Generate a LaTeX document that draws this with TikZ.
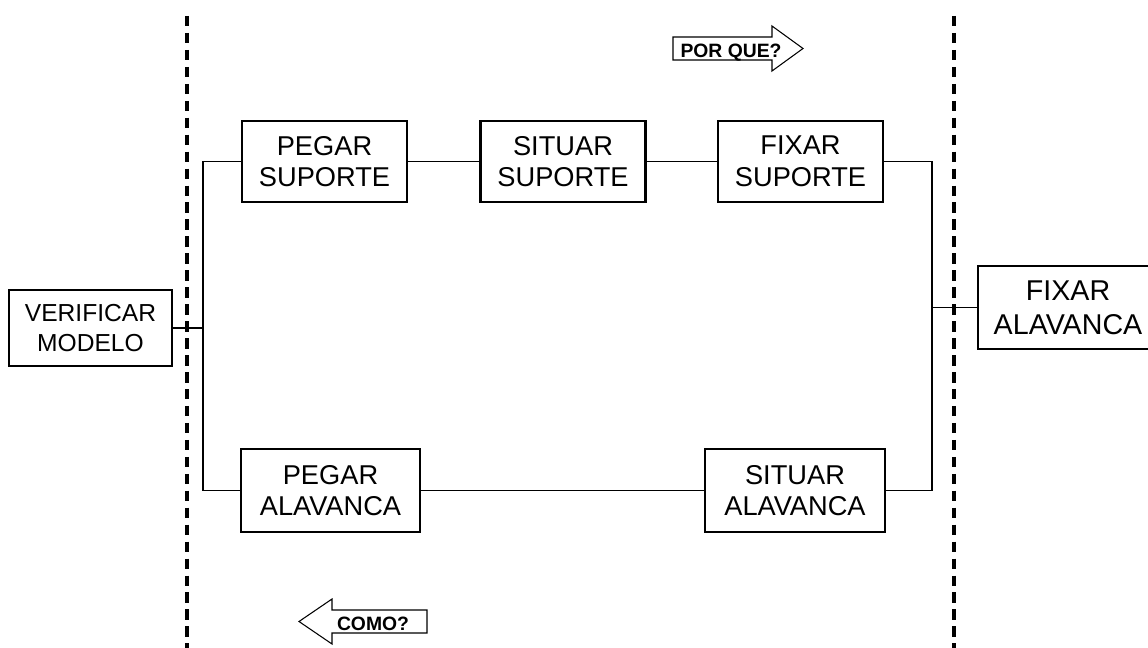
\documentclass[tikz,border=0pt]{standalone}
\usepackage{fontspec}
\setmainfont{Liberation Sans}
\usepackage{tikz}
\usetikzlibrary{calc}

\tikzset{
  caixa/.style={draw=black,line width=1.2pt,align=center,inner sep=0pt,
    font=\fontsize{15.5}{18}\selectfont},
  liga/.style={draw=black,line width=0.85pt},
  limite/.style={draw=black,line width=1.9pt,dash pattern=on 5.95pt off 3.7pt},
  seta/.style={draw=black,fill=white,line width=0.6pt,line join=miter},
  rotulo/.style={font=\fontsize{11}{13}\selectfont\bfseries,inner sep=0pt,anchor=base}
}

\begin{document}
\begin{tikzpicture}[x=0.02cm,y=-0.02cm]
  % Frame
  \useasboundingbox (0,0) rectangle (1148,648);
  % Coordinates
  \coordinate (ET) at (203,161.5);
  \coordinate (EM) at (203,328);
  \coordinate (EB) at (203,490.5);
  \coordinate (DT) at (932,161.5);
  \coordinate (DM) at (932,307.5);
  \coordinate (DB) at (932,490.5);
  % Dashed limits
  \foreach \X in {187,954} {
    \draw[limite] (\X,16) -- (\X,648);
  }
  % Boxes
  \node[caixa,minimum width=3.26cm,minimum height=1.52cm,
        font=\fontsize{14}{17}\selectfont] (verificar) at (90.5,328) {VERIFICAR\\MODELO};
  \node[caixa,minimum width=3.3cm,minimum height=1.62cm] (pegarS) at (324.5,161.5) {PEGAR\\SUPORTE};
  \node[caixa,minimum width=3.3cm,minimum height=1.62cm] (situarS) at (563,161.5) {SITUAR\\SUPORTE};
  \node[caixa,minimum width=3.3cm,minimum height=1.62cm] (fixarS) at (800.5,161.5) {FIXAR\\SUPORTE};
  \node[caixa,minimum width=3.58cm,minimum height=1.66cm] (pegarA) at (330.5,490.5) {PEGAR\\ALAVANCA};
  \node[caixa,minimum width=3.6cm,minimum height=1.66cm] (situarA) at (795,490.5) {SITUAR\\ALAVANCA};
  \node[caixa,minimum width=3.6cm,minimum height=1.66cm,
        font=\fontsize{16.3}{19.3}\selectfont] (fixarA) at (1068,307.5) {FIXAR\\ALAVANCA};
  % Connectors
  \draw[liga] (pegarS.east) -- (situarS.west);
  \draw[liga] (situarS.east) -- (fixarS.west);
  \draw[liga] (pegarA.east) -- (situarA.west);
  \draw[liga] (pegarS.west) -- (ET) -- (EB) -- (pegarA.west);
  \draw[liga] (verificar.east) -- (EM);
  \draw[liga] (fixarS.east) -- (DT) -- (DB) -- (situarA.east);
  \draw[liga] (DM) -- (fixarA.west);
  % Direction arrows
  \draw[seta] (673,37) -- (772,37) -- (772,26) -- (803,48.5) -- (772,71) -- (772,60) -- (673,60) -- cycle;
  \node[rotulo] (porque) at (731,58) {POR QUE?};
  \draw[seta] (427,610) -- (332,610) -- (332,599) -- (299,621.5) -- (332,644) -- (332,633) -- (427,633) -- cycle;
  \node[rotulo] (como) at (373,630) {COMO?};
\end{tikzpicture}
\end{document}
